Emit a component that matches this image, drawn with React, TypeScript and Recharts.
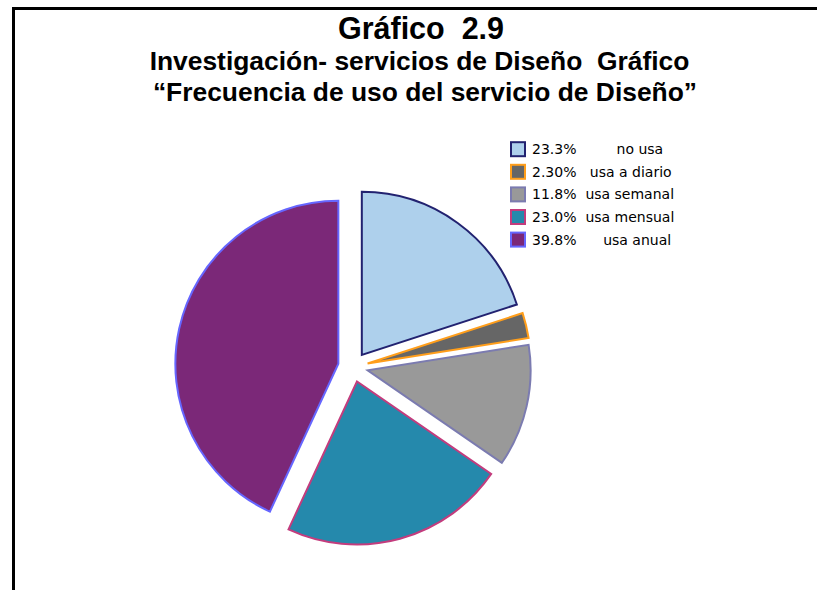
import React from "react";
import { PieChart, Pie, Cell } from "recharts";

// Categories and the legend text (as printed in the reference)
const categories = ["no usa", "usa a diario", "usa semanal", "usa mensual", "usa anual"];
const legendPercents = ["23.3%", "2.30%", "11.8%", "23.0%", "39.8%"];
const legendLabels = ["         no usa", "   usa a diario", "  usa semanal", "  usa mensual", "      usa anual"];
// Slice sizes as drawn in the picture (share of the full circle, %)
const sliceValues = [20.0, 2.5, 12.1, 22.3, 43.1];
const titleLines = [
  "Gráfico  2.9",
  "Investigación- servicios de Diseño  Gráfico",
  "“Frecuencia de uso del servicio de Diseño”",
];

const fills = ["#AED0EC", "#666666", "#999999", "#2589AC", "#7B2878"];
const strokes = ["#222270", "#FF9E1B", "#7B7BB0", "#C33C7D", "#6666FF"];

const W = 817;
const H = 590;
const CX = 353;
const CY = 367;
const R = 163;
const EXPLODE = 15;

const data = categories.map((name, i) => ({ name, value: sliceValues[i] }));
const total = sliceValues.reduce((a, b) => a + b, 0);
const offsets = (() => {
  let acc = 0;
  return sliceValues.map((v) => {
    const mid = 90 - ((acc + v / 2) / total) * 360;
    acc += v;
    const rad = (mid * Math.PI) / 180;
    return { dx: EXPLODE * Math.cos(rad), dy: -EXPLODE * Math.sin(rad) };
  });
})();

const pre: React.CSSProperties = { whiteSpace: "pre" };

export default function App() {
  return (
    <div style={{ position: "absolute", left: 0, top: 0, width: W, height: H, background: "#fff", overflow: "hidden" }}>
      <div style={{ position: "absolute", left: 0, top: 0 }}>
        <PieChart width={W} height={H} margin={{ top: 0, right: 0, bottom: 0, left: 0 }}>
          {offsets.map((o, k) => (
            <Pie
              key={k}
              name={categories[k]}
              data={data}
              dataKey="value"
              nameKey="name"
              cx={CX + o.dx}
              cy={CY + o.dy}
              innerRadius={0}
              outerRadius={R}
              startAngle={90}
              endAngle={-270}
              isAnimationActive={false}
              stroke="none"
              legendType="none"
            >
              {data.map((d, i) => (
                <Cell
                  key={i}
                  fill={i === k ? fills[i] : "none"}
                  stroke={i === k ? strokes[i] : "none"}
                  strokeWidth={2}
                />
              ))}
            </Pie>
          ))}
        </PieChart>
      </div>
      <svg width={W} height={H} style={{ position: "absolute", left: 0, top: 0, pointerEvents: "none" }}>
        <path d={`M13.5 ${H} V8.6 H${W}`} fill="none" stroke="#000" strokeWidth={3} />
        <g fontFamily="'Liberation Sans', Arial, sans-serif" fontWeight="bold" fill="#000" textAnchor="middle">
          <text xmlSpace="preserve" style={pre} x={421} y={39} fontSize={30.5}>{titleLines[0]}</text>
          <text xmlSpace="preserve" style={pre} x={419.5} y={69.5} fontSize={26.4}>{titleLines[1]}</text>
          <text xmlSpace="preserve" style={pre} x={425} y={101} fontSize={26.4}>{titleLines[2]}</text>
        </g>
        <g fontFamily="'DejaVu Sans', sans-serif" fontSize={14} fill="#000">
          {categories.map((c, i) => {
            const cy = 149.2 + i * 22.6;
            return (
              <g key={c}>
                <rect x={511} y={cy - 7} width={14} height={14} fill={fills[i]} stroke={strokes[i]} strokeWidth={2} />
                <text xmlSpace="preserve" style={pre} x={532} y={cy + 5}>{legendPercents[i] + legendLabels[i]}</text>
              </g>
            );
          })}
        </g>
      </svg>
    </div>
  );
}
